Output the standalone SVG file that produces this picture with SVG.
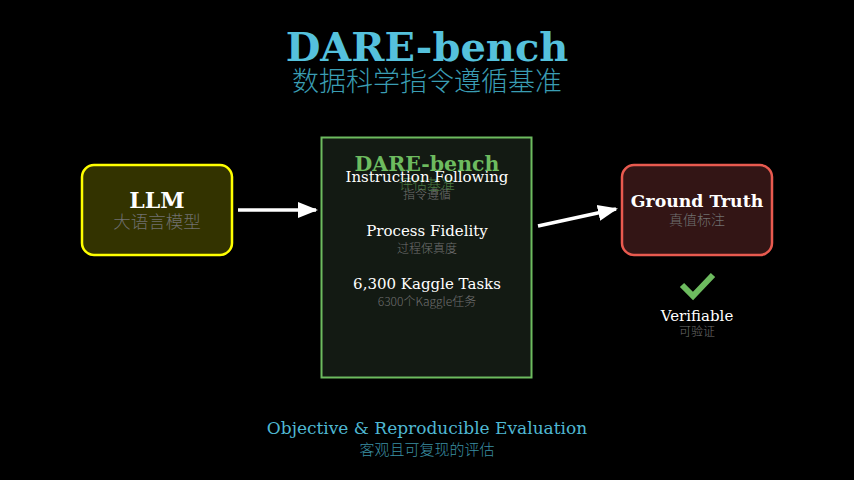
<svg xmlns="http://www.w3.org/2000/svg" width="854" height="480" viewBox="0 0 854 480">
<defs>
<style>
.en{font-family:"DejaVu Serif","Liberation Serif",serif;text-anchor:middle}
.zh{font-family:"Noto Sans CJK SC","Noto Sans",sans-serif;text-anchor:middle;font-weight:300}
.b{font-weight:bold}
.w{fill:#ffffff}
.g{fill:#707070}
.con{stroke:#ffffff;stroke-width:3.5;fill:none}
</style>
<marker id="ah2" viewBox="0 0 20 20" refX="18" refY="10" markerWidth="20" markerHeight="20" orient="auto" markerUnits="userSpaceOnUse">
<path d="M0,2 L20,10 L0,18 Z" fill="#ffffff"/>
</marker>
</defs>
<rect width="854" height="480" fill="#000000"/>
<g id="title">
<text class="en b" x="427" y="61" font-size="40" fill="#55c1dc">DARE-bench</text>
<text class="zh" x="427" y="91" font-size="27" fill="#3a9db3">数据科学指令遵循基准</text>
</g>
<g id="connectors">
<line class="con" x1="238" y1="210" x2="316" y2="210" marker-end="url(#ah2)"/>
<line class="con" x1="538" y1="226" x2="616" y2="209" marker-end="url(#ah2)"/>
</g>
<g id="llm">
<rect x="82" y="165" width="150" height="90" rx="12" fill="#333300" stroke="#ffff00" stroke-width="2.5"/>
<text class="en b w" x="157" y="208" font-size="22">LLM</text>
<text class="zh g" x="157" y="228" font-size="17.5">大语言模型</text>
</g>
<g id="dare">
<rect x="321.5" y="137.5" width="210" height="240" fill="#131a13" stroke="#6dbb5f" stroke-width="2"/>
<text class="en b" x="427" y="171" font-size="20.5" fill="#6dbb5f">DARE-bench</text>
<text class="zh" x="427" y="189" font-size="14" fill="#4a7a42">评估基准</text>
<text class="en w" x="427" y="182" font-size="15">Instruction Following</text>
<text class="zh g" x="427" y="199" font-size="12">指令遵循</text>
<text class="en w" x="427" y="236" font-size="15">Process Fidelity</text>
<text class="zh g" x="427" y="253" font-size="12">过程保真度</text>
<text class="en w" x="427" y="289" font-size="15">6,300 Kaggle Tasks</text>
<text class="zh g" x="427" y="306" font-size="12">6300个Kaggle任务</text>
</g>
<g id="truth">
<rect x="622" y="165" width="150" height="90" rx="12" fill="#331515" stroke="#e85a4f" stroke-width="2.5"/>
<text class="en b w" x="697" y="207" font-size="17.3">Ground Truth</text>
<text class="zh g" x="697" y="225" font-size="14">真值标注</text>
</g>
<g id="verifiable">
<polyline points="682,285 693,296 713,275" fill="none" stroke="#6dbb5f" stroke-width="6"/>
<text class="en w" x="697" y="321" font-size="15">Verifiable</text>
<text class="zh g" x="697" y="336" font-size="12">可验证</text>
</g>
<g id="footer">
<text class="en" x="427" y="434" font-size="17" fill="#4fb8d3">Objective &amp; Reproducible Evaluation</text>
<text class="zh" x="427" y="455" font-size="15" fill="#3a8fa3">客观且可复现的评估</text>
</g>
</svg>
